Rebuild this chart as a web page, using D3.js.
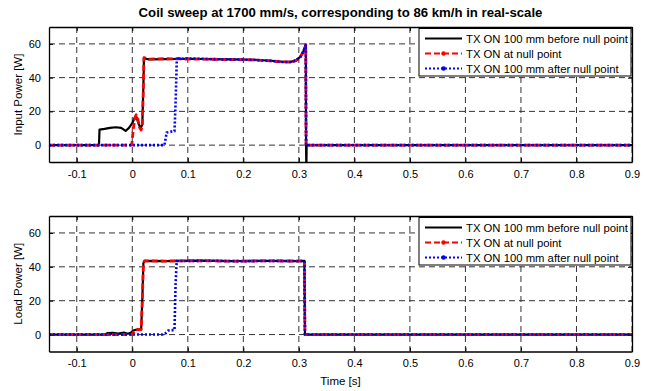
<!DOCTYPE html>
<html>
<head>
<meta charset="utf-8">
<script src="https://cdn.jsdelivr.net/npm/d3@7"></script>
<style>
  body { margin: 0; background: #fff; }
  svg { display: block; font-family: "Liberation Sans", Arial, sans-serif; }
</style>
</head>
<body>
<svg id="chart" width="651" height="391"></svg>
<script>
// ---- data ----
const xTicks = [-0.1, 0, 0.1, 0.2, 0.3, 0.4, 0.5, 0.6, 0.7, 0.8, 0.9];
const yTicks = [0, 20, 40, 60];
const seriesNames = ['TX ON 100 mm before null point', 'TX ON at null point', 'TX ON 100 mm after null point'];

// Input power, TX ON 100 mm before null point
const inBeforeT = [-0.15, -0.060, -0.059, -0.050, -0.040, -0.030, -0.020, -0.012, -0.006, 0.000, 0.004, 0.007, 0.011, 0.015, 0.018, 0.020, 0.021, 0.030, 0.060, 0.100, 0.140, 0.180, 0.220, 0.250, 0.270, 0.285, 0.295, 0.303, 0.308, 0.311, 0.3125, 0.313, 0.3135, 0.314, 0.9];
const inBeforeV = [0, 0, 9.2, 9.6, 10.2, 10.6, 10.2, 8.4, 10.2, 13.0, 16.0, 17.0, 13.0, 10.0, 12.0, 35.0, 51.5, 50.8, 51.0, 51.2, 51.0, 50.8, 50.6, 50.0, 49.4, 49.3, 50.2, 52.5, 55.5, 58.0, 59.5, 0, -15, 0, 0];

// Input power, TX ON at null point
const inNullT = [-0.15, -0.001, 0.002, 0.005, 0.007, 0.010, 0.013, 0.016, 0.018, 0.020, 0.021, 0.030, 0.060, 0.100, 0.140, 0.180, 0.220, 0.250, 0.270, 0.285, 0.295, 0.303, 0.308, 0.311, 0.3125, 0.313, 0.9];
const inNullV = [0, 0, 10.0, 16.5, 18.0, 15.5, 10.5, 9.0, 12.0, 35.0, 51.8, 51.0, 51.2, 51.0, 50.9, 50.7, 50.5, 49.9, 49.3, 49.2, 50.1, 52.4, 55.4, 58.0, 59.5, 0, 0];

// Input power, TX ON 100 mm after null point
const inAfterT = [-0.15, 0.058, 0.060, 0.062, 0.070, 0.076, 0.078, 0.080, 0.082, 0.084, 0.087, 0.090, 0.100, 0.140, 0.180, 0.220, 0.250, 0.270, 0.285, 0.295, 0.303, 0.308, 0.311, 0.3125, 0.313, 0.9];
const inAfterV = [0, 0, 4.0, 7.5, 8.0, 8.2, 25.0, 49.0, 52.5, 50.2, 52.0, 51.2, 51.4, 51.0, 50.8, 50.5, 49.9, 49.3, 49.2, 50.1, 52.4, 55.4, 58.0, 59.5, 0, 0];

// Load power, TX ON 100 mm before null point
const loadBeforeT = [-0.15, -0.050, -0.045, -0.035, -0.025, -0.015, -0.008, -0.003, 0.002, 0.006, 0.016, 0.018, 0.020, 0.022, 0.060, 0.120, 0.180, 0.240, 0.300, 0.310, 0.311, 0.9];
const loadBeforeV = [0, 0, 0.8, 1.0, 0.6, 1.2, 0.5, 1.0, 2.4, 2.8, 3.0, 20.0, 42.0, 43.5, 43.3, 43.6, 43.4, 43.5, 43.4, 43.5, 0, 0];

// Load power, TX ON at null point
const loadNullT = [-0.15, 0.000, 0.004, 0.010, 0.016, 0.018, 0.020, 0.022, 0.060, 0.120, 0.180, 0.240, 0.300, 0.310, 0.311, 0.9];
const loadNullV = [0, 0, 2.6, 3.0, 3.0, 20.0, 42.0, 43.5, 43.4, 43.6, 43.3, 43.5, 43.4, 43.5, 0, 0];

// Load power, TX ON 100 mm after null point
const loadAfterT = [-0.15, 0.055, 0.060, 0.065, 0.070, 0.076, 0.078, 0.080, 0.090, 0.140, 0.200, 0.260, 0.300, 0.310, 0.311, 0.9];
const loadAfterV = [0, 0, 0.8, 2.4, 2.6, 2.6, 30.0, 43.5, 43.4, 43.6, 43.3, 43.5, 43.4, 43.5, 0, 0];

const toPts = (t, v) => t.map((d, i) => ({ t: d, v: v[i] }));

const panels = [
  { top: 27, bottom: 162, label: 'Input Power [W]',
    series: [toPts(inBeforeT, inBeforeV), toPts(inNullT, inNullV), toPts(inAfterT, inAfterV)] },
  { top: 216, bottom: 351.5, label: 'Load Power [W]',
    series: [toPts(loadBeforeT, loadBeforeV), toPts(loadNullT, loadNullV), toPts(loadAfterT, loadAfterV)] }
];

const styles = [
  { color: '#000', width: 2.2, dash: null, marker: false },
  { color: '#ff0000', width: 2.8, dash: '6,3', marker: true },
  { color: '#0000ff', width: 2.6, dash: '2,2', marker: true }
];

const left = 49, right = 632;
const svg = d3.select('#chart');

const x = d3.scaleLinear().domain([-0.15, 0.9]).range([left, right]);

svg.append('text')
  .attr('x', (left + right) / 2).attr('y', 17)
  .attr('text-anchor', 'middle')
  .attr('font-size', 13.2).attr('font-weight', 'bold')
  .text('Coil sweep at 1700 mm/s, corresponding to 86 km/h in real-scale');

const fmt = d => String(d);

panels.forEach((p, pi) => {
  const y = d3.scaleLinear().domain([-10, 70]).range([p.bottom, p.top]);
  const g = svg.append('g');
  const clipId = 'clip' + pi;
  svg.append('clipPath').attr('id', clipId)
    .append('rect').attr('x', left).attr('y', p.top)
    .attr('width', right - left).attr('height', p.bottom - p.top);

  // grid
  g.append('g').selectAll('line').data(xTicks).join('line')
    .attr('x1', d => x(d)).attr('x2', d => x(d))
    .attr('y1', p.top).attr('y2', p.bottom)
    .attr('stroke', '#333').attr('stroke-width', 1).attr('stroke-dasharray', '6,4');
  g.append('g').selectAll('line').data(yTicks).join('line')
    .attr('x1', left).attr('x2', right)
    .attr('y1', d => y(d)).attr('y2', d => y(d))
    .attr('stroke', '#333').attr('stroke-width', 1).attr('stroke-dasharray', '6,4');

  // data
  const line = d3.line().x(d => x(d.t)).y(d => y(d.v));
  const dg = g.append('g').attr('clip-path', `url(#${clipId})`);
  p.series.forEach((s, si) => {
    const st = styles[si];
    dg.append('path').datum(s)
      .attr('d', line)
      .attr('fill', 'none')
      .attr('stroke', st.color)
      .attr('stroke-width', st.width)
      .attr('stroke-dasharray', st.dash)
      .attr('stroke-linejoin', 'round');
  });

  // axes
  const axB = g.append('g').attr('transform', `translate(0,${p.bottom})`)
    .call(d3.axisBottom(x).tickValues(xTicks).tickFormat(fmt).tickSizeInner(-4).tickSizeOuter(0).tickPadding(8));
  const axT = g.append('g').attr('transform', `translate(0,${p.top})`)
    .call(d3.axisTop(x).tickValues(xTicks).tickFormat('').tickSizeInner(-4).tickSizeOuter(0));
  const axL = g.append('g').attr('transform', `translate(${left},0)`)
    .call(d3.axisLeft(y).tickValues(yTicks).tickFormat(fmt).tickSizeInner(-4).tickSizeOuter(0).tickPadding(8));
  const axR = g.append('g').attr('transform', `translate(${right},0)`)
    .call(d3.axisRight(y).tickValues(yTicks).tickFormat('').tickSizeInner(-4).tickSizeOuter(0));
  [axB, axT, axL, axR].forEach(a => {
    a.select('.domain').attr('stroke', '#000').attr('stroke-width', 1.3);
    a.selectAll('line').attr('stroke', '#000');
    a.selectAll('text').attr('font-size', 11).attr('fill', '#000')
      .attr('font-family', '"Liberation Sans", Arial, sans-serif');
  });

  // y label
  svg.append('text')
    .attr('transform', `translate(22,${(p.top + p.bottom) / 2}) rotate(-90)`)
    .attr('text-anchor', 'middle')
    .attr('font-size', 11.5)
    .text(p.label);

  // legend
  const lx = 419, ly = p.top + 1.5, lw = right - 1 - lx, lh = 47.5;
  const lg = svg.append('g');
  lg.append('rect').attr('x', lx).attr('y', ly).attr('width', lw).attr('height', lh)
    .attr('fill', '#fff').attr('stroke', '#000').attr('stroke-width', 1);
  seriesNames.forEach((name, i) => {
    const st = styles[i];
    const yy = ly + 10 + i * 15;
    lg.append('line').attr('x1', lx + 6).attr('x2', lx + 43).attr('y1', yy).attr('y2', yy)
      .attr('stroke', st.color).attr('stroke-width', 2)
      .attr('stroke-dasharray', st.dash);
    if (st.marker) {
      lg.append('circle').attr('cx', lx + 24.5).attr('cy', yy).attr('r', 2.2).attr('fill', st.color);
    }
    lg.append('text').attr('x', lx + 47).attr('y', yy + 4)
      .attr('font-size', 11.3).text(name);
  });
});

svg.append('text')
  .attr('x', (left + right) / 2).attr('y', 385)
  .attr('text-anchor', 'middle')
  .attr('font-size', 11.5)
  .text('Time [s]');
</script>
</body>
</html>
